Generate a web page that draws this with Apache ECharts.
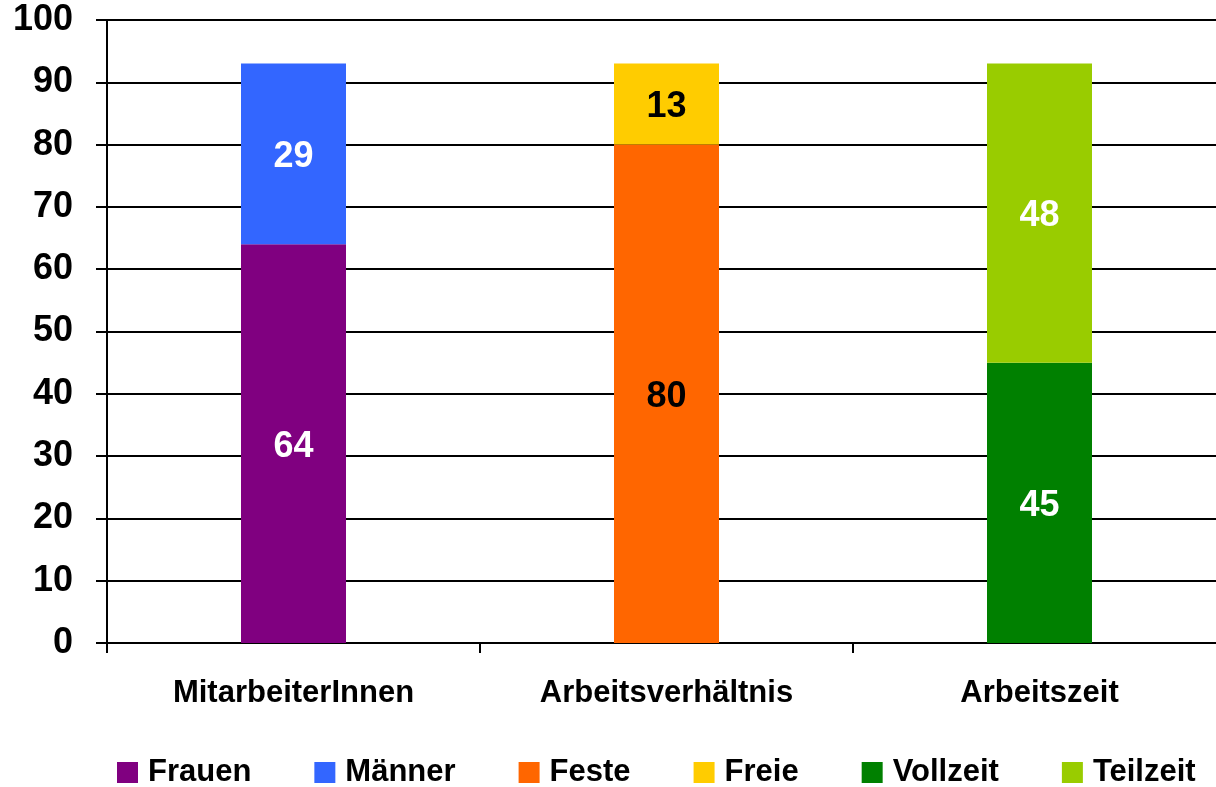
<!DOCTYPE html>
<html lang="de">
<head>
    <meta charset="UTF-8">
    <title>Struktur</title>
    <script type="text/javascript" src="https://cdn.jsdelivr.net/npm/echarts@6/dist/echarts.min.js"></script>
    <style>
        html, body { margin: 0; padding: 0; background: #fff; overflow: hidden; }
    </style>
</head>
<body>
<!-- etwas breiter als das Fenster: rechter Rand des Diagramms ist im Original abgeschnitten -->
<div id="main" style="width: 1226px;height:787px;"></div>

<script type="text/javascript">
    // Daten
    var categories = ['MitarbeiterInnen', 'Arbeitsverhältnis', 'Arbeitszeit'];
    var frauen   = [64, '-', '-'];
    var maenner  = [29, '-', '-'];
    var feste    = ['-', 80, '-'];
    var freie    = ['-', 13, '-'];
    var vollzeit = ['-', '-', 45];
    var teilzeit = ['-', '-', 48];
    var yTicks = { min: 0, max: 100, interval: 10 };

    var font = '"Liberation Sans", Arial, sans-serif';

    function bar(name, data, color, labelColor) {
        return {
            name: name,
            type: 'bar',
            stack: 'alle',
            barWidth: 105,
            data: data,
            itemStyle: { color: color },
            label: {
                show: true,
                position: 'inside',
                offset: [0, 3],
                color: labelColor,
                fontSize: 36,
                fontWeight: 'bold',
                fontFamily: font
            }
        };
    }

    var myChart = echarts.init(document.getElementById('main'));
    var option = {
        animation: false,
        textStyle: { fontFamily: font },
        grid: { left: 107, top: 20, bottom: 144, right: 0, containLabel: false },
        legend: {
            left: 112,
            top: 752,
            itemWidth: 21,
            itemHeight: 21,
            itemGap: 63,
            icon: 'rect',
            textStyle: {
                fontSize: 31,
                fontWeight: 'bold',
                color: '#000',
                fontFamily: font,
                padding: [0, 0, 0, 5]
            },
            data: ['Frauen', 'Männer', 'Feste', 'Freie', 'Vollzeit', 'Teilzeit']
        },
        xAxis: {
            type: 'category',
            data: categories,
            axisLine: { lineStyle: { color: '#000', width: 2 } },
            axisTick: { show: true, length: 10, lineStyle: { color: '#000', width: 2 } },
            axisLabel: {
                color: '#000',
                fontSize: 31,
                fontWeight: 'bold',
                fontFamily: font,
                margin: 35
            }
        },
        yAxis: {
            type: 'value',
            min: yTicks.min,
            max: yTicks.max,
            interval: yTicks.interval,
            axisLine: { show: true, lineStyle: { color: '#000', width: 2 } },
            axisTick: { show: true, length: 11, lineStyle: { color: '#000', width: 2 } },
            splitLine: { lineStyle: { color: '#000', width: 2 } },
            axisLabel: {
                color: '#000',
                fontSize: 36,
                fontWeight: 'bold',
                fontFamily: font,
                margin: 34
            }
        },
        series: [
            bar('Frauen', frauen, '#800080', '#fff'),
            bar('Männer', maenner, '#3366FF', '#fff'),
            bar('Feste', feste, '#FF6600', '#000'),
            bar('Freie', freie, '#FFCC00', '#000'),
            bar('Vollzeit', vollzeit, '#008000', '#fff'),
            bar('Teilzeit', teilzeit, '#99CC00', '#fff')
        ]
    };
    myChart.setOption(option);
</script>
</body>
</html>
